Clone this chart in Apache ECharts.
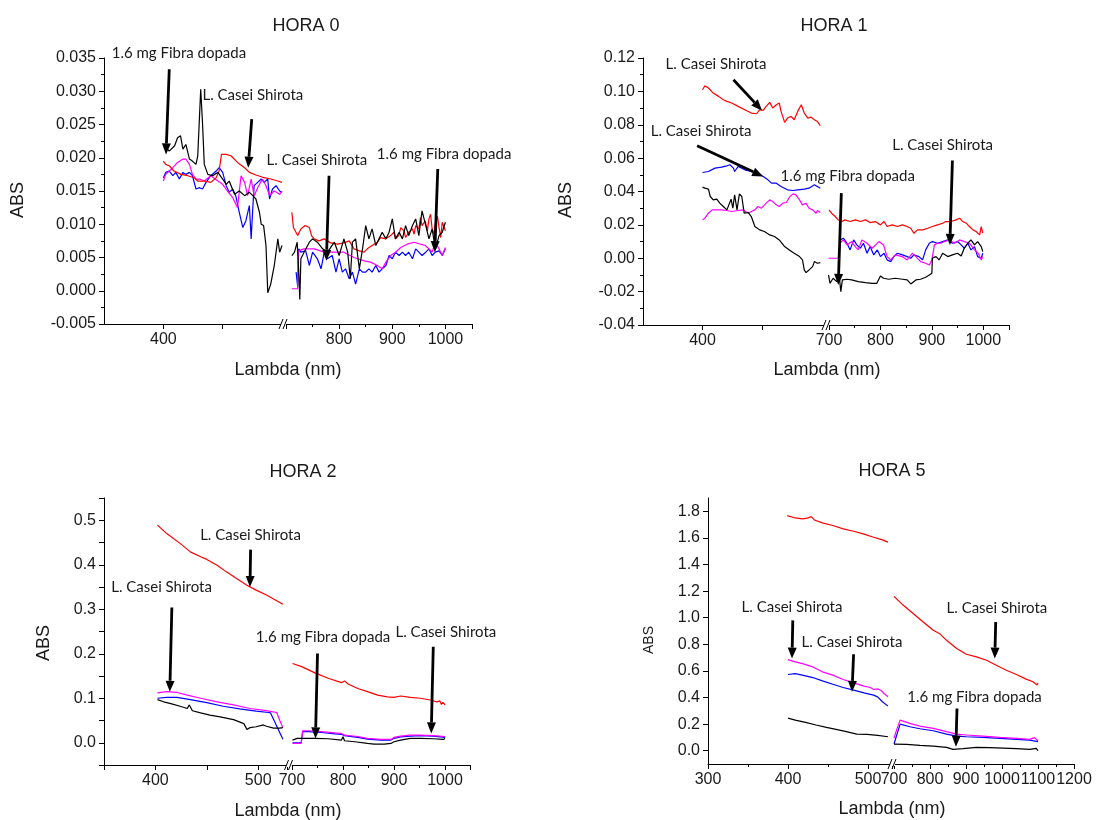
<!DOCTYPE html>
<html><head><meta charset="utf-8">
<script src="https://cdn.jsdelivr.net/npm/echarts@6/dist/echarts.min.js"></script>
<style>html,body{margin:0;padding:0;background:#fff}#c{width:1096px;height:820px}</style>
</head><body><div id="c"></div>
<script>
// ---------------- DATA ----------------
const panelTitles = ['HORA 0', 'HORA 1', 'HORA 2', 'HORA 5'];
const xAxisTitle = 'Lambda (nm)';
const yAxisTitle = 'ABS';

// Tick labels
const h0_xLabelsL = [400], h0_xTicksL = [400, 500], h0_xLabelsR = [800, 900, 1000];
const h1_xLabelsL = [400], h1_xTicksL = [400, 500], h1_xLabelsR = [700, 800, 900, 1000];
const h2_xLabelsL = [400, 500], h2_xLabelsR = [700, 800, 900, 1000];
const h5_xLabelsL = [300, 400, 500], h5_xLabelsR = [700, 800, 900, 1000, 1100, 1200];
const h2_yLabels = [0, 0.1, 0.2, 0.3, 0.4, 0.5];
const h5_yLabels = [0, 0.2, 0.4, 0.6, 0.8, 1.0, 1.2, 1.4, 1.6, 1.8];

// HORA 0
const h0L_black = [[402,0.0218],[410,0.0210],[419,0.0218],[424,0.0230],[429,0.0233],[433,0.0213],[438,0.0220],[444,0.0198],[449,0.0195],[455,0.0190],[458,0.0203],[461,0.0263],[463,0.0303],[466,0.0253],[469,0.0190],[475,0.0175],[483,0.0173],[492,0.0178],[500,0.0168],[506,0.0160],[511,0.0165],[520,0.0145],[528,0.0150],[537,0.0143],[545,0.0148],[551,0.0143],[556,0.0138],[562,0.0118],[565,0.0100],[569,0.0098],[573,0.0068],[576,-0.0003],[581,0.0010],[587,0.0038],[593,0.0078],[596,0.0058],[600,0.0068]];
const h0L_red = [[400,0.0195],[404,0.0190],[410,0.0188],[418,0.0180],[430,0.0175],[441,0.0173],[452,0.0170],[458,0.0165],[469,0.0165],[480,0.0163],[489,0.0170],[494,0.0180],[498,0.0205],[506,0.0205],[514,0.0203],[525,0.0193],[537,0.0185],[545,0.0178],[556,0.0174],[570,0.0170],[581,0.0168],[593,0.0165],[600,0.0163]];
const h0L_blue = [[400,0.0170],[404,0.0178],[410,0.0180],[416,0.0173],[421,0.0178],[427,0.0168],[433,0.0178],[438,0.0175],[444,0.0178],[449,0.0173],[455,0.0153],[461,0.0155],[466,0.0153],[472,0.0163],[480,0.0173],[489,0.0180],[494,0.0185],[500,0.0178],[506,0.0158],[511,0.0148],[517,0.0153],[522,0.0143],[528,0.0118],[534,0.0095],[539,0.0105],[545,0.0128],[548,0.0078],[551,0.0128],[553,0.0158],[559,0.0163],[565,0.0168],[570,0.0163],[576,0.0168],[579,0.0138],[584,0.0153],[590,0.0158],[596,0.0150],[600,0.0148]];
const h0L_mag = [[400,0.0165],[404,0.0175],[410,0.0180],[416,0.0185],[424,0.0193],[433,0.0198],[438,0.0198],[444,0.0190],[449,0.0175],[455,0.0168],[461,0.0168],[469,0.0165],[480,0.0173],[492,0.0165],[500,0.0160],[508,0.0150],[517,0.0140],[525,0.0125],[531,0.0173],[537,0.0163],[542,0.0143],[548,0.0168],[553,0.0143],[559,0.0155],[567,0.0168],[573,0.0158],[579,0.0143],[587,0.0150],[596,0.0145],[600,0.0150]];
const h0R_red = [[711,0.0118],[714,0.0095],[722,0.0083],[728,0.0093],[736,0.0098],[744,0.0095],[748,0.0083],[753,0.0078],[762,0.0075],[772,0.0078],[784,0.0072],[797,0.0070],[809,0.0072],[819,0.0075],[828,0.0063],[838,0.0060],[847,0.0058],[853,0.0063],[862,0.0068],[872,0.0073],[878,0.0080],[888,0.0078],[897,0.0083],[903,0.0088],[906,0.0078],[912,0.0083],[916,0.0095],[922,0.0090],[925,0.0080],[931,0.0088],[938,0.0093],[941,0.0085],[944,0.0098],[950,0.0093],[953,0.0110],[956,0.0098],[962,0.0105],[966,0.0090],[969,0.0108],[972,0.0115],[975,0.0093],[978,0.0085],[981,0.0100],[985,0.0112],[988,0.0095],[991,0.0080],[994,0.0103],[997,0.0100],[1000,0.0090]];
const h0R_black = [[711,0.0053],[716,0.0058],[721,0.0073],[724,0.0028],[726,-0.0013],[728,0.0048],[734,0.0058],[744,0.0073],[750,0.0078],[759,0.0073],[769,0.0063],[778,0.0058],[791,0.0073],[800,0.0053],[809,0.0078],[816,0.0058],[821,0.0018],[825,0.0073],[831,0.0078],[838,0.0033],[844,0.0063],[850,0.0098],[856,0.0078],[862,0.0093],[869,0.0068],[875,0.0078],[881,0.0088],[888,0.0078],[894,0.0088],[900,0.0108],[906,0.0078],[913,0.0088],[919,0.0078],[925,0.0098],[931,0.0083],[938,0.0098],[944,0.0108],[950,0.0083],[956,0.0120],[963,0.0098],[969,0.0078],[975,0.0093],[981,0.0063],[988,0.0083],[994,0.0088],[1000,0.0103]];
const h0R_blue = [[719,0.0028],[722,0.0006],[724,0.0063],[728,0.0058],[737,0.0060],[744,0.0038],[750,0.0058],[759,0.0048],[766,0.0033],[772,0.0058],[778,0.0048],[787,0.0053],[794,0.0028],[800,0.0048],[806,0.0028],[812,0.0033],[819,0.0018],[825,0.0028],[831,0.0010],[838,0.0033],[844,0.0028],[850,0.0028],[856,0.0033],[862,0.0028],[869,0.0038],[875,0.0028],[881,0.0033],[888,0.0038],[894,0.0053],[900,0.0048],[906,0.0058],[913,0.0053],[919,0.0058],[925,0.0053],[931,0.0058],[938,0.0048],[944,0.0063],[950,0.0058],[956,0.0053],[963,0.0058],[969,0.0063],[975,0.0053],[981,0.0058],[988,0.0060],[994,0.0053],[1000,0.0063]];
const h0R_mag = [[711,0.0003],[722,0.0003],[723,0.0060],[734,0.0063],[753,0.0063],[772,0.0058],[791,0.0058],[809,0.0058],[828,0.0050],[847,0.0045],[859,0.0043],[872,0.0038],[881,0.0033],[888,0.0043],[897,0.0053],[906,0.0058],[916,0.0065],[928,0.0070],[941,0.0073],[953,0.0070],[962,0.0068],[969,0.0063],[975,0.0058],[981,0.0073],[988,0.0063],[994,0.0053],[1000,0.0065]];

// HORA 1
const h1L_red = [[400,0.1010],[404,0.1034],[410,0.1020],[418,0.0990],[427,0.0970],[435,0.0950],[441,0.0940],[449,0.0930],[460,0.0910],[471,0.0890],[482,0.0870],[491,0.0866],[496,0.0890],[502,0.0886],[507,0.0910],[513,0.0934],[518,0.0900],[524,0.0920],[529,0.0930],[532,0.0880],[538,0.0814],[543,0.0840],[549,0.0850],[554,0.0830],[560,0.0880],[566,0.0920],[571,0.0870],[577,0.0840],[582,0.0846],[588,0.0830],[593,0.0820],[598,0.0794]];
const h1L_blue = [[400,0.0514],[410,0.0520],[421,0.0540],[432,0.0546],[441,0.0554],[446,0.0560],[452,0.0540],[454,0.0520],[460,0.0550],[471,0.0530],[482,0.0520],[493,0.0510],[502,0.0490],[510,0.0470],[516,0.0450],[524,0.0450],[532,0.0430],[543,0.0410],[552,0.0406],[560,0.0410],[571,0.0414],[579,0.0420],[588,0.0440],[593,0.0430],[598,0.0420]];
const h1L_black = [[400,0.0426],[404,0.0420],[410,0.0414],[413,0.0370],[418,0.0350],[424,0.0354],[429,0.0330],[435,0.0310],[441,0.0290],[443,0.0300],[448,0.0354],[451,0.0300],[454,0.0380],[458,0.0290],[462,0.0386],[466,0.0370],[470,0.0270],[477,0.0274],[482,0.0250],[488,0.0190],[496,0.0170],[504,0.0160],[513,0.0140],[521,0.0130],[529,0.0110],[538,0.0070],[546,0.0050],[554,0.0030],[563,0.0010],[568,-0.0010],[571,-0.0070],[574,-0.0086],[579,-0.0070],[585,-0.0050],[588,-0.0020],[593,-0.0030],[598,-0.0026]];
const h1L_mag = [[400,0.0230],[404,0.0240],[410,0.0270],[416,0.0290],[424,0.0290],[432,0.0290],[441,0.0286],[449,0.0280],[460,0.0286],[468,0.0290],[477,0.0270],[482,0.0280],[488,0.0290],[493,0.0310],[499,0.0300],[507,0.0330],[513,0.0350],[518,0.0340],[524,0.0320],[529,0.0310],[535,0.0330],[541,0.0334],[546,0.0366],[552,0.0386],[557,0.0380],[563,0.0350],[568,0.0320],[574,0.0330],[579,0.0300],[585,0.0290],[591,0.0270],[593,0.0286],[598,0.0274]];
const h1R_red = [[700,0.0290],[705,0.0270],[712,0.0250],[718,0.0230],[725,0.0220],[731,0.0230],[741,0.0220],[751,0.0230],[761,0.0220],[771,0.0230],[780,0.0214],[790,0.0220],[800,0.0200],[807,0.0220],[813,0.0190],[823,0.0200],[833,0.0190],[843,0.0200],[852,0.0190],[859,0.0180],[865,0.0150],[872,0.0170],[882,0.0170],[892,0.0180],[901,0.0190],[911,0.0200],[921,0.0210],[927,0.0220],[937,0.0220],[947,0.0230],[954,0.0240],[960,0.0220],[967,0.0210],[973,0.0190],[980,0.0170],[986,0.0160],[993,0.0140],[996,0.0190],[999,0.0150]];
const h1R_black = [[699,-0.0100],[702,-0.0150],[708,-0.0120],[715,-0.0140],[720,-0.0110],[723,-0.0200],[726,-0.0130],[735,-0.0126],[744,-0.0130],[757,-0.0140],[771,-0.0146],[784,-0.0150],[793,-0.0150],[800,-0.0106],[806,-0.0120],[816,-0.0126],[829,-0.0120],[843,-0.0126],[852,-0.0130],[859,-0.0154],[869,-0.0130],[878,-0.0126],[888,-0.0114],[895,-0.0100],[900,-0.0090],[901,0.0000],[908,0.0010],[914,-0.0010],[921,0.0030],[931,0.0010],[940,0.0020],[950,0.0030],[957,0.0014],[963,0.0060],[970,0.0090],[976,0.0110],[983,0.0080],[989,0.0100],[996,0.0070],[999,0.0040]];
const h1R_blue = [[722,0.0110],[728,0.0120],[735,0.0090],[741,0.0050],[748,0.0110],[754,0.0080],[761,0.0060],[767,0.0090],[774,0.0030],[780,0.0070],[787,0.0020],[794,0.0050],[800,0.0010],[807,0.0030],[813,-0.0010],[820,-0.0020],[826,0.0010],[833,0.0030],[843,0.0020],[852,0.0010],[859,0.0000],[865,0.0020],[875,0.0010],[882,-0.0010],[888,0.0050],[895,0.0090],[901,0.0100],[911,0.0090],[921,0.0100],[931,0.0110],[940,0.0090],[950,0.0100],[957,0.0080],[963,0.0060],[970,0.0090],[976,0.0050],[983,0.0070],[989,0.0010],[996,0.0000],[999,0.0030]];
const h1R_mag = [[699,0.0000],[718,0.0000],[721,0.0090],[728,0.0110],[735,0.0080],[744,0.0100],[751,0.0070],[757,0.0050],[764,0.0110],[774,0.0090],[784,0.0060],[797,0.0100],[806,0.0080],[813,0.0010],[820,-0.0010],[829,0.0020],[842,0.0010],[852,-0.0010],[862,0.0030],[869,0.0010],[878,-0.0020],[888,-0.0030],[895,-0.0040],[900,-0.0010],[905,0.0080],[911,0.0090],[918,0.0090],[924,0.0100],[934,0.0110],[944,0.0090],[954,0.0110],[963,0.0100],[973,0.0090],[983,0.0050],[990,0.0030],[996,-0.0010],[999,0.0010]];

// HORA 2
const h2L_red = [[402,0.489],[411,0.470],[424,0.448],[434,0.429],[444,0.418],[450,0.412],[460,0.399],[469,0.384],[479,0.369],[489,0.354],[498,0.343],[508,0.332],[518,0.319],[524,0.311]];
const h2L_mag = [[402,0.112],[411,0.115],[421,0.113],[431,0.107],[444,0.100],[460,0.092],[476,0.085],[492,0.077],[508,0.072],[513,0.070],[518,0.068],[521,0.050],[524,0.034]];
const h2L_blue = [[402,0.100],[411,0.102],[421,0.102],[434,0.097],[450,0.090],[466,0.082],[482,0.076],[498,0.071],[510,0.068],[512,0.067],[524,0.008]];
const h2L_black = [[402,0.097],[408,0.092],[415,0.088],[424,0.082],[431,0.077],[433,0.085],[436,0.072],[444,0.067],[453,0.062],[463,0.058],[476,0.052],[486,0.043],[489,0.030],[492,0.034],[498,0.036],[505,0.040],[508,0.037],[515,0.033],[521,0.033],[524,0.034]];
const h2R_red = [[701,0.178],[719,0.171],[745,0.157],[771,0.145],[797,0.135],[803,0.139],[810,0.132],[829,0.122],[848,0.115],[868,0.107],[887,0.103],[900,0.102],[913,0.105],[932,0.102],[952,0.100],[971,0.096],[984,0.092],[990,0.094],[993,0.086],[996,0.091],[1000,0.085]];
const h2R_mag = [[701,-0.0015],[718,-0.0015],[721,0.027],[732,0.027],[758,0.025],[784,0.022],[797,0.021],[800,0.025],[803,0.017],[829,0.014],[848,0.010],[874,0.0075],[894,0.0075],[900,0.012],[913,0.015],[932,0.017],[952,0.017],[977,0.016],[1000,0.014]];
const h2R_blue = [[701,0.000],[718,0.000],[721,0.025],[732,0.025],[758,0.023],[784,0.020],[797,0.019],[800,0.023],[803,0.016],[829,0.012],[848,0.008],[874,0.006],[894,0.006],[900,0.010],[913,0.013],[932,0.015],[952,0.016],[977,0.015],[1000,0.012]];
const h2R_black = [[701,0.006],[710,0.0097],[726,0.0097],[745,0.0097],[771,0.009],[797,0.006],[800,0.0135],[803,0.0045],[823,0.0022],[848,-0.0015],[861,-0.003],[881,-0.003],[894,-0.0015],[900,0.0022],[913,0.006],[932,0.0097],[952,0.0097],[977,0.009],[997,0.0075],[1000,0.010]];

// HORA 5
const h5L_red = [[399,1.768],[409,1.750],[418,1.743],[424,1.748],[429,1.760],[433,1.735],[443,1.713],[456,1.693],[469,1.668],[482,1.650],[494,1.630],[507,1.605],[518,1.585],[525,1.568]];
const h5L_mag = [[400,0.685],[409,0.668],[418,0.655],[431,0.630],[443,0.593],[456,0.568],[469,0.535],[482,0.510],[495,0.485],[503,0.475],[507,0.460],[512,0.465],[516,0.455],[520,0.430],[525,0.405]];
const h5L_blue = [[400,0.573],[409,0.580],[418,0.568],[431,0.550],[443,0.525],[456,0.500],[469,0.475],[482,0.455],[495,0.435],[507,0.418],[512,0.405],[518,0.368],[525,0.335]];
const h5L_black = [[400,0.245],[409,0.230],[422,0.213],[435,0.193],[448,0.175],[460,0.160],[473,0.143],[486,0.125],[499,0.123],[512,0.115],[525,0.105]];
const h5R_red = [[700,1.160],[726,1.093],[754,1.030],[781,0.968],[809,0.905],[827,0.880],[846,0.830],[874,0.768],[901,0.725],[929,0.705],[957,0.680],[984,0.643],[1012,0.605],[1040,0.573],[1067,0.538],[1086,0.518],[1092,0.505],[1095,0.520],[1098,0.495],[1100,0.510]];
const h5R_mag = [[700,0.093],[707,0.155],[717,0.230],[744,0.205],[772,0.185],[809,0.168],[846,0.143],[874,0.125],[901,0.118],[947,0.110],[994,0.100],[1040,0.093],[1077,0.085],[1090,0.098],[1100,0.075]];
const h5R_blue = [[700,0.050],[717,0.200],[744,0.180],[772,0.165],[809,0.150],[846,0.125],[874,0.110],[901,0.105],[947,0.100],[994,0.093],[1040,0.085],[1077,0.080],[1100,0.068]];
const h5R_black = [[700,0.050],[735,0.048],[772,0.040],[809,0.035],[846,0.025],[864,0.010],[892,0.015],[929,0.025],[966,0.023],[1003,0.020],[1040,0.015],[1077,0.010],[1095,0.018],[1100,0.000]];

// Annotations: text [grid, x, y], arrow [grid, x1, y1, x2, y2]
const annoTexts = ['1.6 mg Fibra dopada','L. Casei Shirota','L. Casei Shirota','1.6 mg Fibra dopada',
                   'L. Casei Shirota','L. Casei Shirota','1.6 mg Fibra dopada','L. Casei Shirota',
                   'L. Casei Shirota','L. Casei Shirota','1.6 mg Fibra dopada','L. Casei Shirota',
                   'L. Casei Shirota','L. Casei Shirota','L. Casei Shirota','1.6 mg Fibra dopada'];
const annoTextPos = [[0,313,0.03575],[0,466,0.0294],[0,574,0.0197],[1,871,0.0205],
                     [2,338,0.1166],[2,313,0.076],[2,531,0.049],[3,823,0.068],
                     [4,443.5,0.466],[4,357,0.349],[4,497.7,0.238],[5,903,0.249],
                     [6,342,1.08],[6,417,0.8175],[7,846,1.075],[7,737,0.405]];
const annoArrows = [[0,410,0.0333,404.5,0.0205],[0,549,0.0258,543,0.0185],[1,781,0.0173,776,0.0045],[1,985.6,0.0183,980,0.0058],
                    [2,452,0.107,500,0.0886],[2,391,0.0674,502,0.049],[3,724,0.039,718,-0.016],[3,940,0.0586,935,0.008],
                    [4,492.6,0.434,492,0.350],[4,416,0.304,414,0.1145],[5,750,0.2006,746,0.0097],[5,977,0.2156,973,0.021],
                    [6,406,0.98,405,0.6925],[6,482,0.725,480,0.4425],[7,982.5,0.9675,980,0.6925],[7,875,0.3175,872,0.03]];

// ---------------- LAYOUT / STYLE ----------------
const FONT = '"Liberation Sans", Arial, sans-serif';
const COLORS = {red:'#ff0000', blue:'#0000ff', magenta:'#ff00ff', black:'#000000'};
const TXT = '#1a1a1a';

const panels = [
  { title:[306,26], xname:[288,370], yname:[18,200,18], top:58, height:266,
    y:{min:-0.005,max:0.035,interval:0.005,minor:2,dec:3,labels:null},
    L:{left:104,width:178,min:300,max:600,interval:100,labels:h0_xLabelsL,ticks:h0_xTicksL,minor:0},
    R:{left:286,width:186,min:700,max:1050,interval:100,labels:h0_xLabelsR,minor:2},
    brk:284,
    segData:[{red:h0L_red,blue:h0L_blue,magenta:h0L_mag,black:h0L_black},{red:h0R_red,blue:h0R_blue,magenta:h0R_mag,black:h0R_black}] },
  { title:[834,26], xname:[827,370], yname:[566,200,18], top:58, height:267,
    y:{min:-0.04,max:0.12,interval:0.02,minor:2,dec:2,labels:null},
    L:{left:643,width:181.5,min:300,max:605,interval:100,labels:h1_xLabelsL,ticks:h1_xTicksL,minor:0},
    R:{left:829,width:180,min:700,max:1050,interval:100,labels:h1_xLabelsR,minor:2},
    brk:827,
    segData:[{red:h1L_red,blue:h1L_blue,magenta:h1L_mag,black:h1L_black},{red:h1R_red,blue:h1R_blue,magenta:h1R_mag,black:h1R_black}] },
  { title:[303,472], xname:[288,811], yname:[44,643,18], top:498, height:267,
    y:{min:-0.05,max:0.55,interval:0.05,minor:0,dec:1,labels:h2_yLabels},
    L:{left:104,width:183,min:350,max:528,interval:50,labels:h2_xLabelsL,minor:0},
    R:{left:292,width:178.5,min:700,max:1050,interval:100,labels:h2_xLabelsR,minor:2},
    brk:289.5,
    segData:[{red:h2L_red,blue:h2L_blue,magenta:h2L_mag,black:h2L_black},{red:h2R_red,blue:h2R_blue,magenta:h2R_mag,black:h2R_black}] },
  { title:[892,471], xname:[892,809], yname:[649,640,14], top:498, height:266,
    y:{min:-0.1,max:1.9,interval:0.1,minor:0,dec:1,labels:h5_yLabels,ticks:h5_yLabels},
    L:{left:708,width:184,min:300,max:530,interval:100,labels:h5_xLabelsL,minor:2},
    R:{left:894,width:180,min:700,max:1200,interval:100,labels:h5_xLabelsR,minor:2},
    brk:893,
    segData:[{red:h5L_red,blue:h5L_blue,magenta:h5L_mag,black:h5L_black},{red:h5R_red,blue:h5R_blue,magenta:h5R_mag,black:h5R_black}] }
];

const grids = [], xAxes = [], yAxes = [], series = [], graphics = [];
panels.forEach((p, pi) => {
  ['L','R'].forEach((s, si) => {
    const seg = p[s];
    const gi = grids.length;
    grids.push({left:seg.left, top:p.top, width:seg.width, height:p.height, containLabel:false, outerBoundsMode:'none'});
    const xa = {
      type:'value', gridIndex:gi, min:seg.min, max:seg.max, interval:seg.interval,
      axisLine:{show:true, onZero:false, lineStyle:{color:'#000', width:1}},
      axisTick:{show:true, inside:false, length:5, lineStyle:{color:'#000'}},
      minorTick:{show: seg.minor>0, splitNumber: seg.minor||5, length:3, lineStyle:{color:'#000'}},
      splitLine:{show:false},
      axisLabel:{customValues: seg.labels, fontSize:16, fontFamily:FONT, color:TXT, margin:8, formatter: v => String(v)}
    };
    if (seg.ticks) xa.axisTick.customValues = seg.ticks;
    xAxes.push(xa);
    const ya = {
      type:'value', gridIndex:gi, min:p.y.min, max:p.y.max, interval:p.y.interval,
      show: si === 0,
      axisLine:{show:true, onZero:false, lineStyle:{color:'#000', width:1}},
      axisTick:{show:true, inside:false, length:5, lineStyle:{color:'#000'}},
      minorTick:{show: p.y.minor>0, splitNumber: p.y.minor||5, length:3, lineStyle:{color:'#000'}},
      splitLine:{show:false},
      axisLabel:{fontSize:16, fontFamily:FONT, color:TXT, margin:8, formatter: v => Number(v).toFixed(p.y.dec)}
    };
    if (p.y.labels) ya.axisLabel.customValues = p.y.labels;
    if (p.y.ticks) ya.axisTick.customValues = p.y.ticks;
    yAxes.push(ya);
    const d = p.segData[si];
    ['blue','magenta','red','black'].forEach(c => {
      series.push({type:'line', xAxisIndex:gi, yAxisIndex:gi, data:d[c], symbol:'none', showSymbol:false,
        lineStyle:{color:COLORS[c], width:1.2}, itemStyle:{color:COLORS[c]}, animation:false, clip:true, silent:true});
    });
  });
  graphics.push({type:'text', x:p.title[0], y:p.title[1], style:{text:panelTitles[pi], font:'18px '+FONT, fill:TXT, align:'center', verticalAlign:'middle', textAlign:'center', textVerticalAlign:'middle'}});
  graphics.push({type:'text', x:p.xname[0], y:p.xname[1], style:{text:xAxisTitle, font:'18px '+FONT, fill:TXT, align:'center', verticalAlign:'middle', textAlign:'center', textVerticalAlign:'middle'}});
  graphics.push({type:'text', x:p.yname[0], y:p.yname[1], rotation:Math.PI/2, style:{text:yAxisTitle, font:p.yname[2]+'px '+FONT, fill:TXT, align:'center', verticalAlign:'middle', textAlign:'center', textVerticalAlign:'middle'}});
  const ay = p.top + p.height;
  graphics.push({type:'rect', shape:{x:p.brk-3, y:ay-2, width:5, height:4}, style:{fill:'#fff'}, z:100});
  graphics.push({type:'line', shape:{x1:p.brk-5, y1:ay+5, x2:p.brk-1, y2:ay-5}, style:{stroke:'#000', lineWidth:1}, z:101});
  graphics.push({type:'line', shape:{x1:p.brk-1, y1:ay+5, x2:p.brk+3, y2:ay-5}, style:{stroke:'#000', lineWidth:1}, z:101});
});

const chart = echarts.init(document.getElementById('c'), null, {renderer:'canvas', width:1096, height:820});
chart.setOption({backgroundColor:'#fff', animation:false, grid:grids, xAxis:xAxes, yAxis:yAxes, series:series});

function toPx(g, x, y){ return chart.convertToPixel({xAxisIndex:g, yAxisIndex:g}, [x, y]); }
annoTexts.forEach((t, i) => {
  const tp = annoTextPos[i];
  const pt = toPx(tp[0], tp[1], tp[2]);
  graphics.push({type:'text', x:pt[0], y:pt[1], z:50, style:{text:t, font:'15px Lato, "Open Sans", sans-serif', fill:TXT, align:'left', verticalAlign:'middle', textAlign:'left', textVerticalAlign:'middle'}});
  const a = annoArrows[i];
  const p1 = toPx(a[0], a[1], a[2]), p2 = toPx(a[0], a[3], a[4]);
  const dx = p2[0]-p1[0], dy = p2[1]-p1[1], len = Math.hypot(dx, dy);
  const ux = dx/len, uy = dy/len, hl = 11, hw = 4.5;
  const bx = p2[0]-ux*hl, by = p2[1]-uy*hl;
  graphics.push({type:'line', z:50, shape:{x1:p1[0], y1:p1[1], x2:bx, y2:by}, style:{stroke:'#000', lineWidth:2.8}});
  graphics.push({type:'polygon', z:50, shape:{points:[[p2[0],p2[1]],[bx-uy*hw, by+ux*hw],[bx+uy*hw, by-ux*hw]]}, style:{fill:'#000'}});
});
chart.setOption({graphic:graphics});
</script></body></html>
